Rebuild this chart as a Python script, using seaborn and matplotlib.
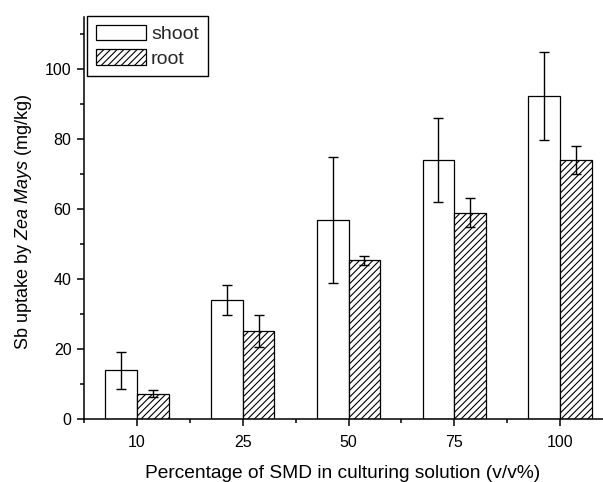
import matplotlib
matplotlib.use("Agg")
import matplotlib.pyplot as plt
from matplotlib.patches import Patch
from matplotlib.ticker import FixedLocator
import pandas as pd
import seaborn as sns

# Sb uptake (mg/kg) by Zea mays at each SMD percentage
smd_levels = ["10", "25", "50", "75", "100"]
shoot_mean = [13.9, 34.0, 56.9, 73.9, 92.3]
shoot_err = [5.2, 4.3, 18.1, 12.0, 12.5]
root_mean = [7.2, 25.1, 45.3, 59.0, 73.9]
root_err = [1.0, 4.6, 1.4, 4.2, 4.0]
tissues = ["shoot", "root"]

sns.set_theme(style="ticks")
plt.rcParams["font.family"] = ["Liberation Sans", "DejaVu Sans"]
plt.rcParams["mathtext.fontset"] = "custom"
plt.rcParams["mathtext.rm"] = "Liberation Sans"
plt.rcParams["mathtext.it"] = "Liberation Sans:italic"
plt.rcParams["hatch.linewidth"] = 0.8
plt.rcParams["hatch.color"] = "black"

df = pd.DataFrame({
    "smd": smd_levels * 2,
    "uptake": shoot_mean + root_mean,
    "err": shoot_err + root_err,
    "tissue": [tissues[0]] * len(smd_levels) + [tissues[1]] * len(smd_levels),
})

W, H = 603, 482
fig = plt.figure(figsize=(W / 100, H / 100), dpi=100)
ax = fig.add_axes([84 / W, 63 / H, (613 - 84) / W, 402.5 / H])

sns.barplot(data=df, x="smd", y="uptake", hue="tissue", order=smd_levels,
            hue_order=tissues, palette=["white", "white"], width=0.6,
            errorbar=None, edgecolor="black", linewidth=0.9, saturation=1,
            legend=False, ax=ax)

bars = [p for p in ax.patches if p.get_height() > 0]
hatches = {"shoot": "", "root": "/////"}
for p, (_, row) in zip(bars, df.iterrows()):
    p.set_hatch(hatches[row["tissue"]])
    p.set_edgecolor("black")
    xc = p.get_x() + p.get_width() / 2
    ax.errorbar(xc, row["uptake"], yerr=row["err"], fmt="none",
                ecolor="black", elinewidth=1.0, capsize=3.3, capthick=1.0,
                zorder=5)

ax.set_xlim(-0.5, 4.5)
ax.set_ylim(0, 115)
ax.yaxis.set_major_locator(FixedLocator([0, 20, 40, 60, 80, 100]))
ax.yaxis.set_minor_locator(FixedLocator([10, 30, 50, 70, 90, 110]))
ax.xaxis.set_minor_locator(FixedLocator([-0.5, 0.5, 1.5, 2.5, 3.5, 4.5]))
ax.tick_params(axis="both", which="major", length=5, width=1.1,
               labelsize=11.5, direction="out", color="black", labelcolor="black")
ax.tick_params(axis="both", which="minor", length=3, width=1.1,
               direction="out", color="black")
ax.tick_params(axis="x", which="major", pad=6.5)
ax.tick_params(axis="y", which="major", pad=4)

for side in ("top", "right"):
    ax.spines[side].set_visible(False)
for side in ("left", "bottom"):
    ax.spines[side].set_linewidth(1.1)
    ax.spines[side].set_color("black")

ax.set_xlabel("Percentage of SMD in culturing solution (v/v%)", fontsize=13.8,
              color="black")
ax.set_ylabel("Sb uptake by $\\mathit{Zea\\ Mays}$ (mg/kg)", fontsize=13,
              color="black")
# label centres in figure pixels
ax.xaxis.set_label_coords(342.5 / W, 1 - 473 / H, transform=fig.transFigure)
ax.yaxis.set_label_coords(24 / W, 1 - 222 / H, transform=fig.transFigure)
ax.xaxis.label.set_va("center")
ax.yaxis.label.set_va("center")

handles = [Patch(facecolor="white", edgecolor="black", linewidth=0.9, hatch=hatches[t])
           for t in tissues]
leg = ax.legend(handles, tissues, loc="upper left",
                bbox_to_anchor=(87 / W, 1 - 16 / H), bbox_transform=fig.transFigure,
                fontsize=14, frameon=True, fancybox=False, edgecolor="black",
                framealpha=1, borderpad=0.45, handlelength=2.58, handleheight=0.85,
                handletextpad=0.26, labelspacing=0.3, borderaxespad=0)
leg.get_frame().set_linewidth(1.0)

fig.savefig("out.png", dpi=100)
